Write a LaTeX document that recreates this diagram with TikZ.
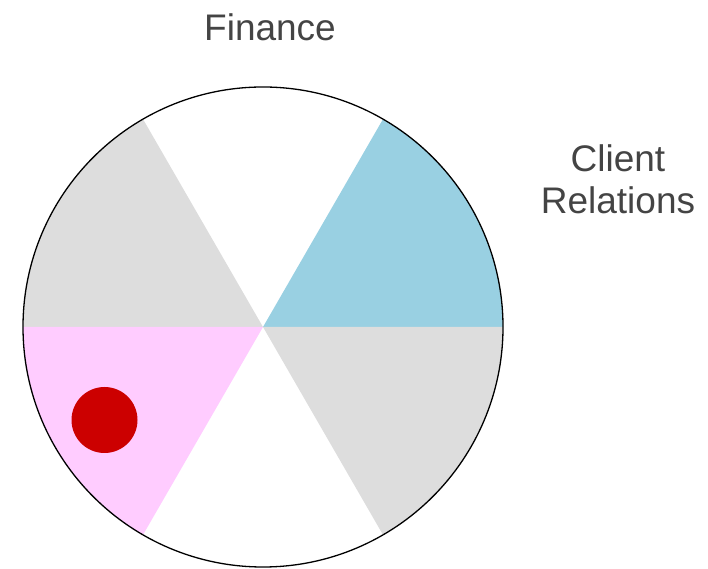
\documentclass[tikz,border=0pt]{standalone}
\usepackage{fontspec}
\setmainfont{Liberation Sans}
\definecolor{sliceblue}{HTML}{99D0E2}
\definecolor{slicegray}{HTML}{DDDDDD}
\definecolor{slicepink}{HTML}{FFCCFF}
\definecolor{dotred}{HTML}{CC0000}
\definecolor{labelgray}{HTML}{444444}
\tikzset{label text/.style={text=labelgray, font=\fontsize{37}{42}\selectfont, align=center}}
\begin{document}
\begin{tikzpicture}[x=1pt,y=1pt]
      \useasboundingbox (0,0) rectangle (708,569);
      \coordinate (c) at (263,242);
      \foreach \a/\col in {0/sliceblue,120/slicegray,180/slicepink,300/slicegray}
        \fill[\col] (c) -- ++(\a:240) arc[start angle=\a, delta angle=60, radius=240] -- cycle;
      \draw[line width=1.3pt] (c) circle[radius=240];
      \fill[dotred] (104.5,149) circle[radius=33];
      \node[label text] (finance) at (270,542) {Finance};
      \node[label text] (client) at (618,390) {Client\\Relations};
    \end{tikzpicture}
\end{document}
